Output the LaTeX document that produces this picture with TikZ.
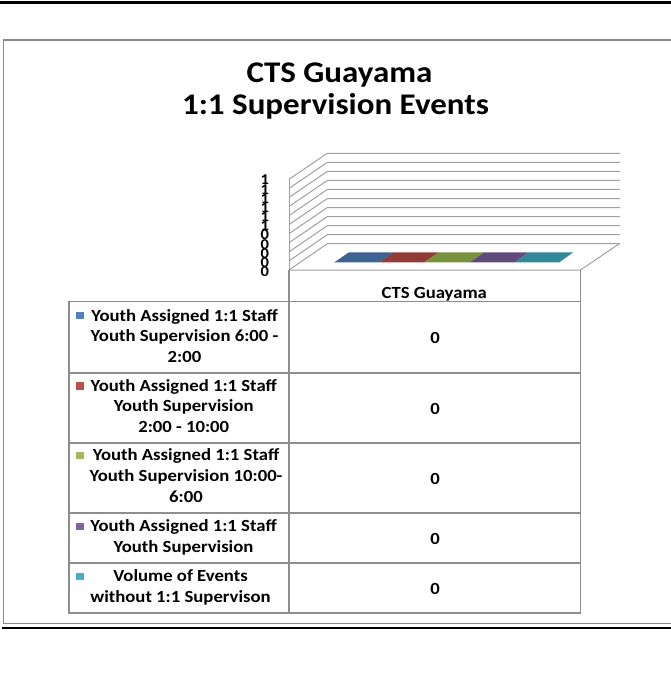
\documentclass[tikz,border=0pt]{standalone}
\usepackage{fontspec}
\setmainfont{Carlito}[FakeStretch=1.1]
\definecolor{gridgray}{HTML}{A0A0A0}
\definecolor{tblgray}{HTML}{8E8E8E}
\definecolor{bordgray}{HTML}{8A8A8A}
\definecolor{sBlue}{HTML}{4F81BD}
\definecolor{sRed}{HTML}{C0504D}
\definecolor{sGreen}{HTML}{9BBB59}
\definecolor{sPurple}{HTML}{8064A2}
\definecolor{sTeal}{HTML}{4BACC6}
\definecolor{dBlue}{HTML}{3D6392}
\definecolor{dRed}{HTML}{923C39}
\definecolor{dGreen}{HTML}{77933E}
\definecolor{dPurple}{HTML}{5F4B7C}
\definecolor{dTeal}{HTML}{33879A}
\tikzset{
  gridline/.style={draw=gridgray, line width=1pt},
  tableline/.style={draw=tblgray, line width=1.3pt},
  chartborder/.style={draw=bordgray, line width=1.4pt},
  rule/.style={draw=black, line width=2.8pt},
  legtext/.style={anchor=base, inner sep=0pt, font=\fontsize{17}{20}\selectfont\bfseries},
  valtext/.style={anchor=base, inner sep=0pt, font=\fontsize{17}{20}\selectfont\bfseries},
  axtext/.style={anchor=center, inner sep=0pt, font=\fontsize{15}{15}\selectfont\bfseries},
  titletext/.style={anchor=base, inner sep=0pt, font=\fontsize{30}{30}\selectfont\bfseries},
  marker/.style={minimum size=7.5pt, inner sep=0pt, draw=none}
}
\begin{document}
\begin{tikzpicture}[x=1pt,y=-1pt]
\useasboundingbox (0,0) rectangle (671,683);
% page rules
\draw[rule] (0,2.4) -- (671,2.4);
\draw[rule] (2,628) -- (671,628);
% chart border
\draw[chartborder] (671,40) -- (3.5,40) -- (3.5,623.3) -- (671,623.3);
% title
\node[titletext] (t1) at (339.5,82.5) {CTS Guayama};
\node[titletext] (t2) at (335.5,114) {1:1 Supervision Events};
% walls and gridlines
\foreach \k in {0,...,10}{
  \draw[gridline] (289,{270-9.07*\k}) -- (327.3,{243.7-9.04*\k}) -- (620,{243.7-9.04*\k});
}
\draw[gridline] (289,179.3) -- (289,270);
\draw[gridline] (289,270) -- (580.5,270) -- (619.3,243.7);
% axis labels
\foreach \k/\v in {0/0,1/0,2/0,3/0,4/0,5/1,6/1,7/1,8/1,9/1,10/1}{
  \node[axtext] (ax\k) at (264.7,{271.7-9.17*\k}) {\v};
}
% zero-height series on floor
\fill[dBlue]   (334.3,262.3) -- (379.3,262.3) -- (393.3,252.3) -- (349,252.3) -- cycle;
\fill[dRed]    (379.3,262.3) -- (424.3,262.3) -- (439,252.3) -- (393.3,252.3) -- cycle;
\fill[dGreen]  (424.3,262.3) -- (470,262.3) -- (484,252.3) -- (439,252.3) -- cycle;
\fill[dPurple] (470,262.3) -- (515,262.3) -- (528.3,252.3) -- (484,252.3) -- cycle;
\fill[dTeal]   (515,262.3) -- (559.3,262.3) -- (573.3,252.3) -- (528.3,252.3) -- cycle;
% data table
\draw[tableline] (69,301.5) rectangle (580.5,613);
\foreach \yy in {373,443,513,563}{ \draw[tableline] (69,\yy) -- (580.5,\yy); }
\draw[tableline] (289,270) -- (289,613);
\draw[tableline] (580.5,270) -- (580.5,301.5);
\node[legtext] (cat) at (434.3,298) {CTS Guayama};
% values
\foreach \yy/\n in {343.3/v1,414/v2,484/v3,544/v4,594/v5}{
  \node[valtext] (\n) at (435,\yy) {0};
}
% legend markers
\node[marker, fill=sBlue]   (m1) at (79.8,315.5) {};
\node[marker, fill=sRed]    (m2) at (79.8,385.8) {};
\node[marker, fill=sGreen]  (m3) at (79.8,455.7) {};
\node[marker, fill=sPurple] (m4) at (79.8,526.5) {};
\node[marker, fill=sTeal]   (m5) at (79.8,576.5) {};
% legend texts
\foreach \xx/\yy/\tt/\n in {
  184.5/321/{Youth Assigned 1:1 Staff}/a1,
  184.5/341.7/{Youth Supervision 6:00 -}/a2,
  184.5/362/{2:00}/a3,
  183.7/391/{Youth Assigned 1:1 Staff}/b1,
  183.7/411.7/{Youth Supervision}/b2,
  183.7/432.3/{2:00 - 10:00}/b3,
  186/460.7/{Youth Assigned 1:1 Staff}/c1,
  186/481.3/{Youth Supervision 10:00-}/c2,
  186/502.3/{6:00}/c3,
  183.5/531.7/{Youth Assigned 1:1 Staff}/d1,
  183.5/552.3/{Youth Supervision}/d2,
  180.5/581.7/{Volume of Events}/e1,
  180.5/602/{without 1:1 Supervison}/e2}{
  \node[legtext] (\n) at (\xx,\yy) {\tt};
}
\end{tikzpicture}
\end{document}
